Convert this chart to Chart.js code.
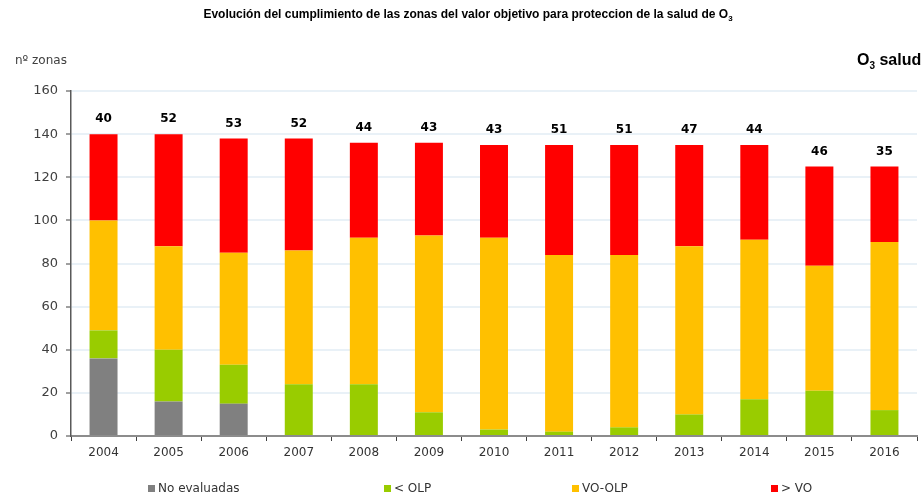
<!DOCTYPE html>
<html>
<head>
<meta charset="utf-8">
<script src="https://cdn.jsdelivr.net/npm/chart.js@4.4.1/dist/chart.umd.min.js"></script>
<style>
  html, body { margin: 0; padding: 0; background: #fff; }
  #wrap { width: 923px; height: 499px; position: relative; }
</style>
</head>
<body>
<div id="wrap"><canvas id="c"></canvas></div>
<script>
/* Evolución del cumplimiento - O3 salud */
var years = ["2004", "2005", "2006", "2007", "2008", "2009", "2010", "2011", "2012", "2013", "2014", "2015", "2016"];
var noEvaluadas = [36, 16, 15, 0, 0, 0, 0, 0, 0, 0, 0, 0, 0];
var menorOLP    = [13, 24, 18, 24, 24, 11, 3, 2, 4, 10, 17, 21, 12];
var voOLP       = [51, 48, 52, 62, 68, 82, 89, 82, 80, 78, 74, 58, 78];
var mayorVO     = [40, 52, 53, 52, 44, 43, 43, 51, 51, 47, 44, 46, 35];
var yTicks = [0, 20, 40, 60, 80, 100, 120, 140, 160];

var seriesNames = ["No evaluadas", "< OLP", "VO-OLP", "> VO"];
var seriesColors = ["#808080", "#99cc00", "#ffc000", "#ff0000"];
var legendX = [148, 384, 572, 771];

var decor = {
    id: "decor",
    afterDraw: function (chart) {
        var ctx = chart.ctx;
        ctx.save();

        // title with subscript
        var t1 = "Evolución del cumplimiento de las zonas del valor objetivo para proteccion de la salud de O";
        ctx.font = "bold 12px 'Liberation Sans', Arial, sans-serif";
        var w1 = ctx.measureText(t1).width;
        ctx.font = "bold 8px 'Liberation Sans', Arial, sans-serif";
        var w2 = ctx.measureText("3").width;
        var x0 = 468 - (w1 + w2) / 2;
        ctx.fillStyle = "#000";
        ctx.textBaseline = "alphabetic";
        ctx.textAlign = "left";
        ctx.font = "bold 12px 'Liberation Sans', Arial, sans-serif";
        ctx.fillText(t1, x0, 18);
        ctx.font = "bold 8px 'Liberation Sans', Arial, sans-serif";
        ctx.fillText("3", x0 + w1, 21);

        // y axis unit
        ctx.fillStyle = "#404040";
        ctx.font = "12px 'DejaVu Sans', sans-serif";
        ctx.fillText("nº zonas", 15, 64);

        // O3 salud
        ctx.fillStyle = "#000";
        ctx.font = "bold 16px 'Liberation Sans', Arial, sans-serif";
        ctx.fillText("O", 857, 65);
        var wo = ctx.measureText("O").width;
        ctx.font = "bold 10px 'Liberation Sans', Arial, sans-serif";
        ctx.fillText("3", 857 + wo, 69);
        var w3 = ctx.measureText("3").width;
        ctx.font = "bold 16px 'Liberation Sans', Arial, sans-serif";
        ctx.fillText(" salud", 857 + wo + w3, 65);

        // values of > VO above each bar
        var meta = chart.getDatasetMeta(3);
        ctx.font = "bold 12px 'DejaVu Sans', sans-serif";
        ctx.textAlign = "center";
        ctx.textBaseline = "middle";
        ctx.fillStyle = "#000";
        meta.data.forEach(function (bar, i) {
            ctx.fillText(String(mayorVO[i]), bar.x, bar.y - 15);
        });

        // legend
        ctx.textAlign = "left";
        ctx.font = "12px 'DejaVu Sans', sans-serif";
        for (var k = 0; k < seriesNames.length; k++) {
            ctx.fillStyle = seriesColors[k];
            ctx.fillRect(legendX[k], 485, 7, 7);
            ctx.fillStyle = "#333";
            ctx.fillText(seriesNames[k], legendX[k] + 10, 489);
        }
        ctx.restore();
    }
};

var dataSets = [noEvaluadas, menorOLP, voOLP, mayorVO].map(function (vals, i) {
    return {
        label: seriesNames[i],
        data: vals,
        backgroundColor: seriesColors[i],
        borderWidth: 0,
        categoryPercentage: 0.43,
        barPercentage: 1
    };
});

new Chart(document.getElementById("c"), {
    type: "bar",
    data: { labels: years, datasets: dataSets },
    plugins: [decor],
    options: {
        responsive: true,
        maintainAspectRatio: false,
        animation: false,
        layout: { padding: { top: 91, right: 6, left: 0, bottom: 0 } },
        plugins: {
            legend: { display: false },
            tooltip: { enabled: false },
            title: { display: false }
        },
        scales: {
            x: {
                stacked: true,
                afterFit: function (s) { s.height = 63; },
                grid: {
                    drawOnChartArea: false,
                    drawTicks: true,
                    tickLength: 5,
                    tickColor: "#404040"
                },
                border: { color: "#8c8c8c", width: 2 },
                ticks: {
                    color: "#333",
                    padding: 5,
                    font: { family: "'DejaVu Sans', sans-serif", size: 12 }
                }
            },
            y: {
                stacked: true,
                min: 0,
                max: 160,
                afterFit: function (s) { s.width = 71; },
                afterBuildTicks: function (s) {
                    s.ticks = yTicks.map(function (v) { return { value: v }; });
                },
                grid: {
                    color: "#e9f1f7",
                    lineWidth: 2,
                    tickLength: 5,
                    tickColor: "#404040",
                    tickWidth: 1
                },
                border: { color: "#595959", width: 1.5 },
                ticks: {
                    color: "#404040",
                    padding: 8,
                    font: { family: "'DejaVu Sans', sans-serif", size: 13 }
                }
            }
        }
    }
});
</script>
</body>
</html>
